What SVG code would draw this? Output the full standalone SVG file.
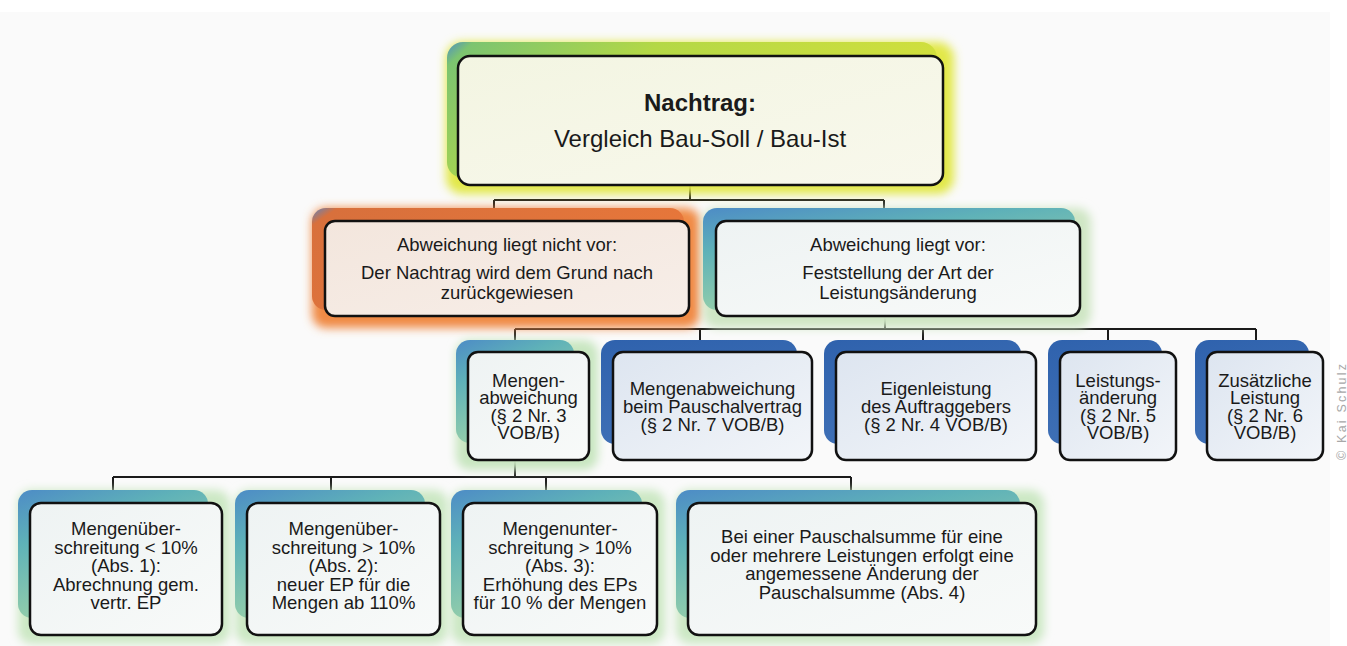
<svg xmlns="http://www.w3.org/2000/svg" width="1347" height="646" viewBox="0 0 1347 646">
<style>
text{font-family:"Liberation Sans",Arial,sans-serif;fill:#1a1a1a;text-anchor:middle}
.t1{font-size:24px}
.t2{font-size:18.5px}
.t3{font-size:18.5px}
.box{stroke:#111;stroke-width:2.5}
.glow{filter:url(#blur)}
.con path{fill:none;stroke:#1a1a1a;stroke-width:2}
.copy{font-size:12.5px;fill:#a8a8a8}
</style>
<defs>
<filter id="blur" x="-20%" y="-30%" width="140%" height="160%"><feGaussianBlur stdDeviation="5"/></filter>
<linearGradient id="gTop" x1="0" y1="0" x2="1" y2="0.3">
<stop offset="0" stop-color="#4f8fc4"/><stop offset="0.05" stop-color="#7cc470"/><stop offset="0.4" stop-color="#b4d846"/><stop offset="1" stop-color="#d4e03c"/>
</linearGradient>
<linearGradient id="gOr" x1="0" y1="0" x2="1" y2="0.4">
<stop offset="0" stop-color="#5c84c0"/><stop offset="0.06" stop-color="#d8703c"/><stop offset="1" stop-color="#e8773a"/>
</linearGradient>
<linearGradient id="gTeal" x1="0" y1="0" x2="0.5" y2="1">
<stop offset="0" stop-color="#4d8cc6"/><stop offset="0.35" stop-color="#5fb2b8"/><stop offset="1" stop-color="#a4d6a6"/>
</linearGradient>
<linearGradient id="gBlue" x1="0" y1="0" x2="0.3" y2="1">
<stop offset="0" stop-color="#2f62ad"/><stop offset="1" stop-color="#3f70b6"/>
</linearGradient>
<linearGradient id="fTop" x1="0" y1="0" x2="1" y2="1"><stop offset="0" stop-color="#f3f5e2"/><stop offset="1" stop-color="#f8f8ec"/></linearGradient>
<linearGradient id="fOr" x1="0" y1="0" x2="1" y2="1"><stop offset="0" stop-color="#f3e6dd"/><stop offset="1" stop-color="#f7eee8"/></linearGradient>
<linearGradient id="fTeal" x1="0" y1="0" x2="1" y2="1"><stop offset="0" stop-color="#eef3f3"/><stop offset="1" stop-color="#f8faf9"/></linearGradient>
<linearGradient id="fBlue" x1="0" y1="0" x2="1" y2="1"><stop offset="0" stop-color="#dde5f0"/><stop offset="1" stop-color="#f2f5f9"/></linearGradient>
</defs>
<rect x="0" y="0" width="1347" height="646" fill="#ffffff"/>
<rect x="0" y="12" width="1330" height="634" fill="#fafafa"/>

<g id="connectors" class="con">
<path d="M690,185V200M494,200H884M494,200V209M884,200V209"/>
<path d="M885,316V329M515,329H1256M515,329V341M700,329V341M923,329V341M1108,329V341M1256,329V341"/>
<path d="M515,460V477M113,477H851M113,477V491M331,477V491M546,477V491M851,477V491"/>
</g>

<g id="n-top">
<rect class="glow" x="446" y="42" width="508" height="152" rx="16" fill="#e2e84a"/>
<rect x="447" y="42" width="490" height="136" rx="16" fill="url(#gTop)"/>
<rect class="box" x="458" y="56" width="485" height="129" rx="12" fill="url(#fTop)"/>
<text class="t1" x="700" y="111" font-weight="bold">Nachtrag:</text>
<text class="t1" x="700" y="147">Vergleich Bau-Soll / Bau-Ist</text>
</g>

<g id="n-nicht">
<rect class="glow" x="312" y="208" width="388" height="120" rx="14" fill="#f08a44"/>
<rect x="312" y="208" width="372" height="102" rx="14" fill="url(#gOr)"/>
<rect class="box" x="325" y="221" width="364" height="95" rx="10" fill="url(#fOr)"/>
<text class="t2" x="507" y="251">Abweichung liegt nicht vor:</text>
<text class="t2" x="507" y="279">Der Nachtrag wird dem Grund nach</text>
<text class="t2" x="507" y="299">zurückgewiesen</text>
</g>

<g id="n-vor">
<rect class="glow" x="703" y="208" width="388" height="120" rx="14" fill="#cfe6c4"/>
<rect x="703" y="208" width="372" height="102" rx="14" fill="url(#gTeal)"/>
<rect class="box" x="716" y="221" width="364" height="95" rx="10" fill="url(#fTeal)"/>
<text class="t2" x="898" y="251">Abweichung liegt vor:</text>
<text class="t2" x="898" y="279">Feststellung der Art der</text>
<text class="t2" x="898" y="299">Leistungsänderung</text>
</g>

<g id="n-mengen">
<rect class="glow" x="456" y="340" width="142" height="130" rx="14" fill="#c8e6c0"/>
<rect x="456" y="340" width="118" height="103" rx="14" fill="url(#gTeal)"/>
<rect class="box" x="468" y="352" width="121" height="108" rx="10" fill="url(#fTeal)"/>
<text class="t3" x="528.5" y="386.5">Mengen-</text>
<text class="t3" x="528.5" y="404">abweichung</text>
<text class="t3" x="528.5" y="421.5">(§ 2 Nr. 3</text>
<text class="t3" x="528.5" y="439">VOB/B)</text>
</g>

<g id="n-pauschal">
<rect x="601" y="340" width="196" height="104" rx="14" fill="url(#gBlue)"/>
<rect class="box" x="613" y="352" width="199" height="108" rx="10" fill="url(#fBlue)"/>
<text class="t3" x="712.5" y="394.5">Mengenabweichung</text>
<text class="t3" x="712.5" y="412.5">beim Pauschalvertrag</text>
<text class="t3" x="712.5" y="430.5">(§ 2 Nr. 7 VOB/B)</text>
</g>

<g id="n-eigen">
<rect x="824" y="340" width="197" height="104" rx="14" fill="url(#gBlue)"/>
<rect class="box" x="836" y="352" width="200" height="108" rx="10" fill="url(#fBlue)"/>
<text class="t3" x="936" y="394.5">Eigenleistung</text>
<text class="t3" x="936" y="412.5">des Auftraggebers</text>
<text class="t3" x="936" y="430.5">(§ 2 Nr. 4 VOB/B)</text>
</g>

<g id="n-leistung">
<rect x="1048" y="340" width="114" height="104" rx="14" fill="url(#gBlue)"/>
<rect class="box" x="1060" y="352" width="116" height="108" rx="10" fill="url(#fBlue)"/>
<text class="t3" x="1118" y="386.5">Leistungs-</text>
<text class="t3" x="1118" y="404">änderung</text>
<text class="t3" x="1118" y="421.5">(§ 2 Nr. 5</text>
<text class="t3" x="1118" y="439">VOB/B)</text>
</g>

<g id="n-zusatz">
<rect x="1195" y="340" width="114" height="104" rx="14" fill="url(#gBlue)"/>
<rect class="box" x="1207" y="352" width="116" height="108" rx="10" fill="url(#fBlue)"/>
<text class="t3" x="1265" y="386.5">Zusätzliche</text>
<text class="t3" x="1265" y="404">Leistung</text>
<text class="t3" x="1265" y="421.5">(§ 2 Nr. 6</text>
<text class="t3" x="1265" y="439">VOB/B)</text>
</g>

<g id="n-abs1">
<rect class="glow" x="18" y="490" width="212" height="154" rx="14" fill="#cce8c4"/>
<rect x="18" y="490" width="190" height="128" rx="14" fill="url(#gTeal)"/>
<rect class="box" x="30" y="503" width="192" height="132" rx="11" fill="url(#fTeal)"/>
<text class="t3" x="126" y="535">Mengenüber-</text>
<text class="t3" x="126" y="553.5">schreitung &lt; 10%</text>
<text class="t3" x="126" y="572">(Abs. 1):</text>
<text class="t3" x="126" y="590.5">Abrechnung gem.</text>
<text class="t3" x="126" y="609">vertr. EP</text>
</g>

<g id="n-abs2">
<rect class="glow" x="235" y="490" width="213" height="154" rx="14" fill="#cce8c4"/>
<rect x="235" y="490" width="190" height="128" rx="14" fill="url(#gTeal)"/>
<rect class="box" x="247" y="503" width="193" height="132" rx="11" fill="url(#fTeal)"/>
<text class="t3" x="343.5" y="535">Mengenüber-</text>
<text class="t3" x="343.5" y="553.5">schreitung &gt; 10%</text>
<text class="t3" x="343.5" y="572">(Abs. 2):</text>
<text class="t3" x="343.5" y="590.5">neuer EP für die</text>
<text class="t3" x="343.5" y="609">Mengen ab 110%</text>
</g>

<g id="n-abs3">
<rect class="glow" x="451" y="490" width="214" height="154" rx="14" fill="#cce8c4"/>
<rect x="451" y="490" width="191" height="128" rx="14" fill="url(#gTeal)"/>
<rect class="box" x="463" y="503" width="194" height="132" rx="11" fill="url(#fTeal)"/>
<text class="t3" x="560" y="535">Mengenunter-</text>
<text class="t3" x="560" y="553.5">schreitung &gt; 10%</text>
<text class="t3" x="560" y="572">(Abs. 3):</text>
<text class="t3" x="560" y="590.5">Erhöhung des EPs</text>
<text class="t3" x="560" y="609">für 10 % der Mengen</text>
</g>

<g id="n-abs4">
<rect class="glow" x="676" y="490" width="368" height="154" rx="14" fill="#cce8c4"/>
<rect x="676" y="490" width="344" height="128" rx="14" fill="url(#gTeal)"/>
<rect class="box" x="688" y="503" width="348" height="132" rx="11" fill="url(#fTeal)"/>
<text class="t3" x="862" y="543">Bei einer Pauschalsumme für eine</text>
<text class="t3" x="862" y="561.5">oder mehrere Leistungen erfolgt eine</text>
<text class="t3" x="862" y="580">angemessene Änderung der</text>
<text class="t3" x="862" y="598.5">Pauschalsumme (Abs. 4)</text>
</g>

<text class="copy" x="1346" y="412" transform="rotate(-90 1346 412)" textLength="96" lengthAdjust="spacing">© Kai Schulz</text>
</svg>
